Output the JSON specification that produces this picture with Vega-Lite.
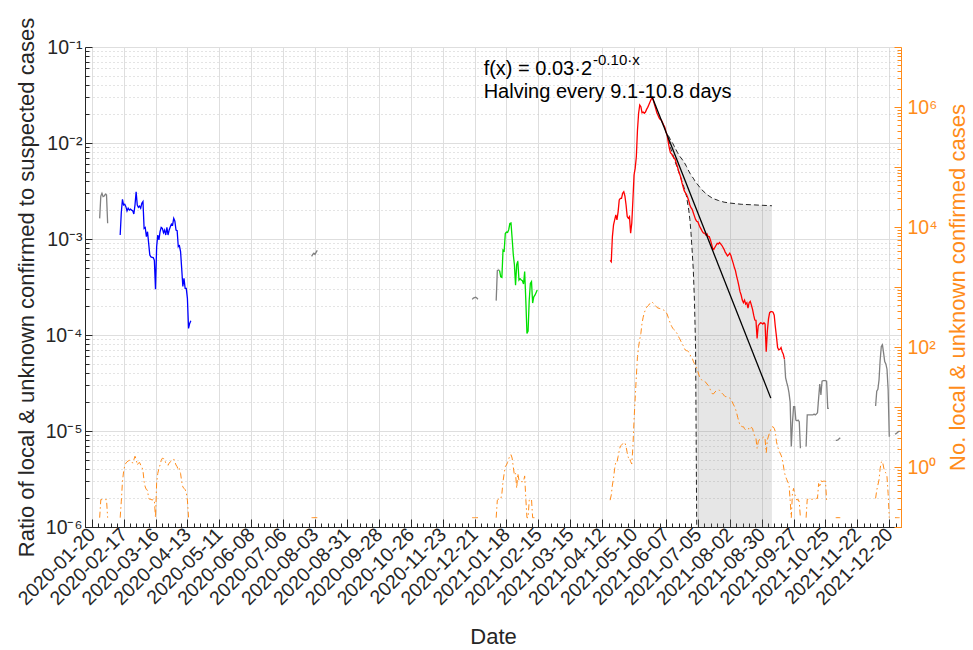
{
"$schema": "https://vega.github.io/schema/vega-lite/v6.json",
"width": 816,
"height": 480,
"autosize": {"type": "none"},
"padding": {"left": 85, "top": 47, "right": 72, "bottom": 123},
"background": "#ffffff",
"config": {
  "font": "Liberation Sans",
  "view": {"stroke": null},
  "axis": {"labelFont": "Liberation Sans", "titleFont": "Liberation Sans", "titleFontWeight": "normal", "labelColor": "#262626", "titleColor": "#262626", "domainColor": "#262626", "tickColor": "#262626", "domainWidth": 1, "tickWidth": 1},
  "text": {"font": "Liberation Sans"}
},
"datasets": {
  "ratio": [
    {"d":"2020-01-27","v":1.64e-3,"s":"other","g":"a"},
    {"d":"2020-01-28","v":2.8e-3,"s":"other","g":"a"},
    {"d":"2020-01-29","v":2.99e-3,"s":"other","g":"a"},
    {"d":"2020-01-30","v":2.76e-3,"s":"other","g":"a"},
    {"d":"2020-01-31","v":2.8e-3,"s":"other","g":"a"},
    {"d":"2020-02-01","v":2.93e-3,"s":"other","g":"a"},
    {"d":"2020-02-02","v":2.88e-3,"s":"other","g":"a"},
    {"d":"2020-02-03","v":1.46e-3,"s":"other","g":"a"},
    {"d":"2020-02-14","v":1.10e-3,"s":"wave1","g":"b"},
    {"d":"2020-02-15","v":1.9e-3,"s":"wave1","g":"b"},
    {"d":"2020-02-16","v":2.59e-3,"s":"wave1","g":"b"},
    {"d":"2020-02-17","v":2.26e-3,"s":"wave1","g":"b"},
    {"d":"2020-02-18","v":2.3e-3,"s":"wave1","g":"b"},
    {"d":"2020-02-19","v":2.17e-3,"s":"wave1","g":"b"},
    {"d":"2020-02-20","v":1.96e-3,"s":"wave1","g":"b"},
    {"d":"2020-02-21","v":2.09e-3,"s":"wave1","g":"b"},
    {"d":"2020-02-22","v":2.0e-3,"s":"wave1","g":"b"},
    {"d":"2020-02-23","v":2.05e-3,"s":"wave1","g":"b"},
    {"d":"2020-02-24","v":2.0e-3,"s":"wave1","g":"b"},
    {"d":"2020-02-25","v":1.97e-3,"s":"wave1","g":"b"},
    {"d":"2020-02-26","v":1.82e-3,"s":"wave1","g":"b"},
    {"d":"2020-02-27","v":2.26e-3,"s":"wave1","g":"b"},
    {"d":"2020-02-28","v":3.11e-3,"s":"wave1","g":"b"},
    {"d":"2020-02-29","v":2.26e-3,"s":"wave1","g":"b"},
    {"d":"2020-03-01","v":2.14e-3,"s":"wave1","g":"b"},
    {"d":"2020-03-02","v":2.2e-3,"s":"wave1","g":"b"},
    {"d":"2020-03-03","v":2.09e-3,"s":"wave1","g":"b"},
    {"d":"2020-03-04","v":2.35e-3,"s":"wave1","g":"b"},
    {"d":"2020-03-05","v":2.45e-3,"s":"wave1","g":"b"},
    {"d":"2020-03-06","v":1.29e-3,"s":"wave1","g":"b"},
    {"d":"2020-03-07","v":1.32e-3,"s":"wave1","g":"b"},
    {"d":"2020-03-08","v":1.06e-3,"s":"wave1","g":"b"},
    {"d":"2020-03-09","v":1.19e-3,"s":"wave1","g":"b"},
    {"d":"2020-03-10","v":9.0e-4,"s":"wave1","g":"b"},
    {"d":"2020-03-11","v":6.8e-4,"s":"wave1","g":"b"},
    {"d":"2020-03-12","v":6.5e-4,"s":"wave1","g":"b"},
    {"d":"2020-03-13","v":6.45e-4,"s":"wave1","g":"b"},
    {"d":"2020-03-14","v":6.4e-4,"s":"wave1","g":"b"},
    {"d":"2020-03-15","v":6.0e-4,"s":"wave1","g":"b"},
    {"d":"2020-03-16","v":2.99e-4,"s":"wave1","g":"b"},
    {"d":"2020-03-17","v":8.3e-4,"s":"wave1","g":"b"},
    {"d":"2020-03-18","v":1.1e-3,"s":"wave1","g":"b"},
    {"d":"2020-03-19","v":9.8e-4,"s":"wave1","g":"b"},
    {"d":"2020-03-20","v":1.19e-3,"s":"wave1","g":"b"},
    {"d":"2020-03-21","v":1.32e-3,"s":"wave1","g":"b"},
    {"d":"2020-03-22","v":1.29e-3,"s":"wave1","g":"b"},
    {"d":"2020-03-23","v":1.16e-3,"s":"wave1","g":"b"},
    {"d":"2020-03-24","v":1.24e-3,"s":"wave1","g":"b"},
    {"d":"2020-03-25","v":1.10e-3,"s":"wave1","g":"b"},
    {"d":"2020-03-26","v":1.32e-3,"s":"wave1","g":"b"},
    {"d":"2020-03-27","v":1.10e-3,"s":"wave1","g":"b"},
    {"d":"2020-03-28","v":1.24e-3,"s":"wave1","g":"b"},
    {"d":"2020-03-29","v":1.34e-3,"s":"wave1","g":"b"},
    {"d":"2020-03-30","v":1.43e-3,"s":"wave1","g":"b"},
    {"d":"2020-03-31","v":1.40e-3,"s":"wave1","g":"b"},
    {"d":"2020-04-01","v":1.64e-3,"s":"wave1","g":"b"},
    {"d":"2020-04-02","v":1.53e-3,"s":"wave1","g":"b"},
    {"d":"2020-04-03","v":1.24e-3,"s":"wave1","g":"b"},
    {"d":"2020-04-04","v":1.22e-3,"s":"wave1","g":"b"},
    {"d":"2020-04-05","v":8.3e-4,"s":"wave1","g":"b"},
    {"d":"2020-04-06","v":8.5e-4,"s":"wave1","g":"b"},
    {"d":"2020-04-07","v":7.4e-4,"s":"wave1","g":"b"},
    {"d":"2020-04-08","v":4.9e-4,"s":"wave1","g":"b"},
    {"d":"2020-04-09","v":3.2e-4,"s":"wave1","g":"b"},
    {"d":"2020-04-10","v":3.9e-4,"s":"wave1","g":"b"},
    {"d":"2020-04-11","v":3.06e-4,"s":"wave1","g":"b"},
    {"d":"2020-04-12","v":3.06e-4,"s":"wave1","g":"b"},
    {"d":"2020-04-13","v":2.41e-4,"s":"wave1","g":"b"},
    {"d":"2020-04-14","v":1.17e-4,"s":"wave1","g":"b"},
    {"d":"2020-04-15","v":1.32e-4,"s":"wave1","g":"b"},
    {"d":"2020-04-16","v":1.41e-4,"s":"wave1","g":"b"},
    {"d":"2020-07-31","v":6.6e-4,"s":"other","g":"c"},
    {"d":"2020-08-01","v":6.9e-4,"s":"other","g":"c"},
    {"d":"2020-08-02","v":7.1e-4,"s":"other","g":"c"},
    {"d":"2020-08-03","v":6.9e-4,"s":"other","g":"c"},
    {"d":"2020-08-04","v":7.3e-4,"s":"other","g":"c"},
    {"d":"2020-08-05","v":7.6e-4,"s":"other","g":"c"},
    {"d":"2020-12-19","v":2.35e-4,"s":"other","g":"e"},
    {"d":"2020-12-20","v":2.42e-4,"s":"other","g":"e"},
    {"d":"2020-12-21","v":2.45e-4,"s":"other","g":"e"},
    {"d":"2020-12-22","v":2.48e-4,"s":"other","g":"e"},
    {"d":"2020-12-23","v":2.43e-4,"s":"other","g":"e"},
    {"d":"2020-12-24","v":2.36e-4,"s":"other","g":"e"},
    {"d":"2021-01-09","v":2.28e-4,"s":"other","g":"f"},
    {"d":"2021-01-10","v":4.68e-4,"s":"other","g":"f"},
    {"d":"2021-01-11","v":4.75e-4,"s":"other","g":"f"},
    {"d":"2021-01-12","v":4.68e-4,"s":"other","g":"f"},
    {"d":"2021-01-12","v":4.68e-4,"s":"wave2","g":"h"},
    {"d":"2021-01-13","v":4.03e-4,"s":"wave2","g":"h"},
    {"d":"2021-01-14","v":3.97e-4,"s":"wave2","g":"h"},
    {"d":"2021-01-15","v":7.66e-4,"s":"wave2","g":"h"},
    {"d":"2021-01-16","v":7.5e-4,"s":"wave2","g":"h"},
    {"d":"2021-01-17","v":1.14e-3,"s":"wave2","g":"h"},
    {"d":"2021-01-18","v":1.18e-3,"s":"wave2","g":"h"},
    {"d":"2021-01-19","v":1.17e-3,"s":"wave2","g":"h"},
    {"d":"2021-01-20","v":1.25e-3,"s":"wave2","g":"h"},
    {"d":"2021-01-21","v":1.45e-3,"s":"wave2","g":"h"},
    {"d":"2021-01-22","v":1.47e-3,"s":"wave2","g":"h"},
    {"d":"2021-01-23","v":1.02e-3,"s":"wave2","g":"h"},
    {"d":"2021-01-24","v":6.9e-4,"s":"wave2","g":"h"},
    {"d":"2021-01-25","v":5.4e-4,"s":"wave2","g":"h"},
    {"d":"2021-01-26","v":3.3e-4,"s":"wave2","g":"h"},
    {"d":"2021-01-27","v":5.4e-4,"s":"wave2","g":"h"},
    {"d":"2021-01-28","v":5.87e-4,"s":"wave2","g":"h"},
    {"d":"2021-01-29","v":3.74e-4,"s":"wave2","g":"h"},
    {"d":"2021-01-30","v":3.86e-4,"s":"wave2","g":"h"},
    {"d":"2021-01-31","v":3.74e-4,"s":"wave2","g":"h"},
    {"d":"2021-02-01","v":3.68e-4,"s":"wave2","g":"h"},
    {"d":"2021-02-02","v":3.4e-4,"s":"wave2","g":"h"},
    {"d":"2021-02-03","v":4.58e-4,"s":"wave2","g":"h"},
    {"d":"2021-02-04","v":2.32e-4,"s":"wave2","g":"h"},
    {"d":"2021-02-05","v":1.04e-4,"s":"wave2","g":"h"},
    {"d":"2021-02-06","v":1.1e-4,"s":"wave2","g":"h"},
    {"d":"2021-02-07","v":2.3e-4,"s":"wave2","g":"h"},
    {"d":"2021-02-08","v":3.45e-4,"s":"wave2","g":"h"},
    {"d":"2021-02-09","v":3.6e-4,"s":"wave2","g":"h"},
    {"d":"2021-02-10","v":2.15e-4,"s":"wave2","g":"h"},
    {"d":"2021-02-11","v":2.5e-4,"s":"wave2","g":"h"},
    {"d":"2021-02-12","v":2.6e-4,"s":"wave2","g":"h"},
    {"d":"2021-02-13","v":2.76e-4,"s":"wave2","g":"h"},
    {"d":"2021-02-14","v":2.94e-4,"s":"wave2","g":"h"},
    {"d":"2021-04-19","v":6.0e-4,"s":"wave3","g":"r"},
    {"d":"2021-04-20","v":5.8e-4,"s":"wave3","g":"r"},
    {"d":"2021-04-21","v":1.06e-3,"s":"wave3","g":"r"},
    {"d":"2021-04-22","v":1.40e-3,"s":"wave3","g":"r"},
    {"d":"2021-04-23","v":1.58e-3,"s":"wave3","g":"r"},
    {"d":"2021-04-24","v":1.78e-3,"s":"wave3","g":"r"},
    {"d":"2021-04-25","v":1.58e-3,"s":"wave3","g":"r"},
    {"d":"2021-04-26","v":1.92e-3,"s":"wave3","g":"r"},
    {"d":"2021-04-27","v":2.55e-3,"s":"wave3","g":"r"},
    {"d":"2021-04-28","v":2.65e-3,"s":"wave3","g":"r"},
    {"d":"2021-04-29","v":2.65e-3,"s":"wave3","g":"r"},
    {"d":"2021-04-30","v":2.99e-3,"s":"wave3","g":"r"},
    {"d":"2021-05-01","v":3.11e-3,"s":"wave3","g":"r"},
    {"d":"2021-05-02","v":2.8e-3,"s":"wave3","g":"r"},
    {"d":"2021-05-03","v":2.26e-3,"s":"wave3","g":"r"},
    {"d":"2021-05-04","v":1.71e-3,"s":"wave3","g":"r"},
    {"d":"2021-05-05","v":1.64e-3,"s":"wave3","g":"r"},
    {"d":"2021-05-06","v":1.71e-3,"s":"wave3","g":"r"},
    {"d":"2021-05-07","v":1.15e-3,"s":"wave3","g":"r"},
    {"d":"2021-05-08","v":1.46e-3,"s":"wave3","g":"r"},
    {"d":"2021-05-09","v":2.55e-3,"s":"wave3","g":"r"},
    {"d":"2021-05-10","v":4.64e-3,"s":"wave3","g":"r"},
    {"d":"2021-05-11","v":5.44e-3,"s":"wave3","g":"r"},
    {"d":"2021-05-12","v":7.2e-3,"s":"wave3","g":"r"},
    {"d":"2021-05-13","v":1.36e-2,"s":"wave3","g":"r"},
    {"d":"2021-05-14","v":2.04e-2,"s":"wave3","g":"r"},
    {"d":"2021-05-15","v":2.49e-2,"s":"wave3","g":"r"},
    {"d":"2021-05-16","v":2.39e-2,"s":"wave3","g":"r"},
    {"d":"2021-05-17","v":2.07e-2,"s":"wave3","g":"r"},
    {"d":"2021-05-18","v":2.1e-2,"s":"wave3","g":"r"},
    {"d":"2021-05-19","v":2.04e-2,"s":"wave3","g":"r"},
    {"d":"2021-05-20","v":2.1e-2,"s":"wave3","g":"r"},
    {"d":"2021-05-21","v":2.24e-2,"s":"wave3","g":"r"},
    {"d":"2021-05-22","v":2.35e-2,"s":"wave3","g":"r"},
    {"d":"2021-05-23","v":2.5e-2,"s":"wave3","g":"r"},
    {"d":"2021-05-24","v":2.67e-2,"s":"wave3","g":"r"},
    {"d":"2021-05-25","v":2.85e-2,"s":"wave3","g":"r"},
    {"d":"2021-05-26","v":2.99e-2,"s":"wave3","g":"r"},
    {"d":"2021-05-27","v":2.76e-2,"s":"wave3","g":"r"},
    {"d":"2021-05-28","v":2.5e-2,"s":"wave3","g":"r"},
    {"d":"2021-05-29","v":2.28e-2,"s":"wave3","g":"r"},
    {"d":"2021-05-30","v":2.07e-2,"s":"wave3","g":"r"},
    {"d":"2021-05-31","v":1.94e-2,"s":"wave3","g":"r"},
    {"d":"2021-06-01","v":1.82e-2,"s":"wave3","g":"r"},
    {"d":"2021-06-02","v":1.76e-2,"s":"wave3","g":"r"},
    {"d":"2021-06-03","v":1.73e-2,"s":"wave3","g":"r"},
    {"d":"2021-06-04","v":1.63e-2,"s":"wave3","g":"r"},
    {"d":"2021-06-05","v":1.54e-2,"s":"wave3","g":"r"},
    {"d":"2021-06-06","v":1.46e-2,"s":"wave3","g":"r"},
    {"d":"2021-06-07","v":1.31e-2,"s":"wave3","g":"r"},
    {"d":"2021-06-08","v":1.21e-2,"s":"wave3","g":"r"},
    {"d":"2021-06-09","v":1.03e-2,"s":"wave3","g":"r"},
    {"d":"2021-06-10","v":8.8e-3,"s":"wave3","g":"r"},
    {"d":"2021-06-11","v":7.9e-3,"s":"wave3","g":"r"},
    {"d":"2021-06-12","v":7.7e-3,"s":"wave3","g":"r"},
    {"d":"2021-06-13","v":7.3e-3,"s":"wave3","g":"r"},
    {"d":"2021-06-14","v":7.0e-3,"s":"wave3","g":"r"},
    {"d":"2021-06-15","v":6.8e-3,"s":"wave3","g":"r"},
    {"d":"2021-06-16","v":6.2e-3,"s":"wave3","g":"r"},
    {"d":"2021-06-17","v":5.7e-3,"s":"wave3","g":"r"},
    {"d":"2021-06-18","v":5.15e-3,"s":"wave3","g":"r"},
    {"d":"2021-06-19","v":4.75e-3,"s":"wave3","g":"r"},
    {"d":"2021-06-20","v":4.39e-3,"s":"wave3","g":"r"},
    {"d":"2021-06-21","v":3.86e-3,"s":"wave3","g":"r"},
    {"d":"2021-06-22","v":3.51e-3,"s":"wave3","g":"r"},
    {"d":"2021-06-23","v":3.19e-3,"s":"wave3","g":"r"},
    {"d":"2021-06-24","v":3.03e-3,"s":"wave3","g":"r"},
    {"d":"2021-06-25","v":2.9e-3,"s":"wave3","g":"r"},
    {"d":"2021-06-26","v":2.72e-3,"s":"wave3","g":"r"},
    {"d":"2021-06-27","v":2.51e-3,"s":"wave3","g":"r"},
    {"d":"2021-06-28","v":2.26e-3,"s":"wave3","g":"r"},
    {"d":"2021-06-29","v":2.12e-3,"s":"wave3","g":"r"},
    {"d":"2021-06-30","v":2.04e-3,"s":"wave3","g":"r"},
    {"d":"2021-07-01","v":1.88e-3,"s":"wave3","g":"r"},
    {"d":"2021-07-02","v":1.73e-3,"s":"wave3","g":"r"},
    {"d":"2021-07-03","v":1.60e-3,"s":"wave3","g":"r"},
    {"d":"2021-07-04","v":1.53e-3,"s":"wave3","g":"r"},
    {"d":"2021-07-05","v":1.51e-3,"s":"wave3","g":"r"},
    {"d":"2021-07-06","v":1.41e-3,"s":"wave3","g":"r"},
    {"d":"2021-07-07","v":1.32e-3,"s":"wave3","g":"r"},
    {"d":"2021-07-08","v":1.26e-3,"s":"wave3","g":"r"},
    {"d":"2021-07-09","v":1.19e-3,"s":"wave3","g":"r"},
    {"d":"2021-07-10","v":1.15e-3,"s":"wave3","g":"r"},
    {"d":"2021-07-11","v":1.15e-3,"s":"wave3","g":"r"},
    {"d":"2021-07-12","v":1.10e-3,"s":"wave3","g":"r"},
    {"d":"2021-07-13","v":1.13e-3,"s":"wave3","g":"r"},
    {"d":"2021-07-14","v":1.06e-3,"s":"wave3","g":"r"},
    {"d":"2021-07-15","v":1.06e-3,"s":"wave3","g":"r"},
    {"d":"2021-07-16","v":9.8e-4,"s":"wave3","g":"r"},
    {"d":"2021-07-17","v":8.9e-4,"s":"wave3","g":"r"},
    {"d":"2021-07-18","v":8.0e-4,"s":"wave3","g":"r"},
    {"d":"2021-07-19","v":7.8e-4,"s":"wave3","g":"r"},
    {"d":"2021-07-20","v":8.2e-4,"s":"wave3","g":"r"},
    {"d":"2021-07-21","v":8.6e-4,"s":"wave3","g":"r"},
    {"d":"2021-07-22","v":9.0e-4,"s":"wave3","g":"r"},
    {"d":"2021-07-23","v":8.9e-4,"s":"wave3","g":"r"},
    {"d":"2021-07-24","v":9.2e-4,"s":"wave3","g":"r"},
    {"d":"2021-07-25","v":8.9e-4,"s":"wave3","g":"r"},
    {"d":"2021-07-26","v":8.6e-4,"s":"wave3","g":"r"},
    {"d":"2021-07-27","v":8.2e-4,"s":"wave3","g":"r"},
    {"d":"2021-07-28","v":7.8e-4,"s":"wave3","g":"r"},
    {"d":"2021-07-29","v":7.3e-4,"s":"wave3","g":"r"},
    {"d":"2021-07-30","v":7.0e-4,"s":"wave3","g":"r"},
    {"d":"2021-07-31","v":6.65e-4,"s":"wave3","g":"r"},
    {"d":"2021-08-01","v":6.85e-4,"s":"wave3","g":"r"},
    {"d":"2021-08-02","v":7.1e-4,"s":"wave3","g":"r"},
    {"d":"2021-08-03","v":6.75e-4,"s":"wave3","g":"r"},
    {"d":"2021-08-04","v":6.1e-4,"s":"wave3","g":"r"},
    {"d":"2021-08-05","v":5.6e-4,"s":"wave3","g":"r"},
    {"d":"2021-08-06","v":5.07e-4,"s":"wave3","g":"r"},
    {"d":"2021-08-07","v":4.68e-4,"s":"wave3","g":"r"},
    {"d":"2021-08-08","v":4.11e-4,"s":"wave3","g":"r"},
    {"d":"2021-08-09","v":3.68e-4,"s":"wave3","g":"r"},
    {"d":"2021-08-10","v":3.24e-4,"s":"wave3","g":"r"},
    {"d":"2021-08-11","v":2.83e-4,"s":"wave3","g":"r"},
    {"d":"2021-08-12","v":2.61e-4,"s":"wave3","g":"r"},
    {"d":"2021-08-13","v":2.31e-4,"s":"wave3","g":"r"},
    {"d":"2021-08-14","v":2.17e-4,"s":"wave3","g":"r"},
    {"d":"2021-08-15","v":2.31e-4,"s":"wave3","g":"r"},
    {"d":"2021-08-16","v":2.1e-4,"s":"wave3","g":"r"},
    {"d":"2021-08-17","v":2.17e-4,"s":"wave3","g":"r"},
    {"d":"2021-08-18","v":1.9e-4,"s":"wave3","g":"r"},
    {"d":"2021-08-19","v":2.17e-4,"s":"wave3","g":"r"},
    {"d":"2021-08-20","v":2.24e-4,"s":"wave3","g":"r"},
    {"d":"2021-08-21","v":2.05e-4,"s":"wave3","g":"r"},
    {"d":"2021-08-22","v":1.85e-4,"s":"wave3","g":"r"},
    {"d":"2021-08-23","v":1.61e-4,"s":"wave3","g":"r"},
    {"d":"2021-08-24","v":1.43e-4,"s":"wave3","g":"r"},
    {"d":"2021-08-25","v":1.42e-4,"s":"wave3","g":"r"},
    {"d":"2021-08-26","v":9.2e-5,"s":"wave3","g":"r"},
    {"d":"2021-08-27","v":1.25e-4,"s":"wave3","g":"r"},
    {"d":"2021-08-28","v":1.3e-4,"s":"wave3","g":"r"},
    {"d":"2021-08-29","v":1.34e-4,"s":"wave3","g":"r"},
    {"d":"2021-08-30","v":1.33e-4,"s":"wave3","g":"r"},
    {"d":"2021-08-31","v":1.3e-4,"s":"wave3","g":"r"},
    {"d":"2021-09-01","v":1.34e-4,"s":"wave3","g":"r"},
    {"d":"2021-09-02","v":1.3e-4,"s":"wave3","g":"r"},
    {"d":"2021-09-03","v":6.7e-5,"s":"wave3","g":"r"},
    {"d":"2021-09-04","v":1.1e-4,"s":"wave3","g":"r"},
    {"d":"2021-09-05","v":1.47e-4,"s":"wave3","g":"r"},
    {"d":"2021-09-06","v":1.71e-4,"s":"wave3","g":"r"},
    {"d":"2021-09-07","v":1.75e-4,"s":"wave3","g":"r"},
    {"d":"2021-09-08","v":1.75e-4,"s":"wave3","g":"r"},
    {"d":"2021-09-09","v":1.73e-4,"s":"wave3","g":"r"},
    {"d":"2021-09-10","v":1.61e-4,"s":"wave3","g":"r"},
    {"d":"2021-09-11","v":1.22e-4,"s":"wave3","g":"r"},
    {"d":"2021-09-12","v":9.6e-5,"s":"wave3","g":"r"},
    {"d":"2021-09-13","v":7.4e-5,"s":"wave3","g":"r"},
    {"d":"2021-09-14","v":7.0e-5,"s":"wave3","g":"r"},
    {"d":"2021-09-15","v":7.1e-5,"s":"wave3","g":"r"},
    {"d":"2021-09-16","v":7.4e-5,"s":"wave3","g":"r"},
    {"d":"2021-09-17","v":6.7e-5,"s":"wave3","g":"r"},
    {"d":"2021-09-18","v":6.3e-5,"s":"wave3","g":"r"},
    {"d":"2021-09-19","v":5.6e-5,"s":"wave3","g":"r"},
    {"d":"2021-09-19","v":5.6e-5,"s":"other","g":"k"},
    {"d":"2021-09-20","v":3.6e-5,"s":"other","g":"k"},
    {"d":"2021-09-21","v":3.2e-5,"s":"other","g":"k"},
    {"d":"2021-09-22","v":2.9e-5,"s":"other","g":"k"},
    {"d":"2021-09-23","v":2.5e-5,"s":"other","g":"k"},
    {"d":"2021-09-24","v":2.0e-5,"s":"other","g":"k"},
    {"d":"2021-09-25","v":6.9e-6,"s":"other","g":"k"},
    {"d":"2021-09-26","v":1.2e-5,"s":"other","g":"k"},
    {"d":"2021-09-27","v":1.79e-5,"s":"other","g":"k"},
    {"d":"2021-09-28","v":1.79e-5,"s":"other","g":"k"},
    {"d":"2021-09-29","v":1.3e-5,"s":"other","g":"k"},
    {"d":"2021-09-30","v":1.28e-5,"s":"other","g":"k"},
    {"d":"2021-10-01","v":1.3e-5,"s":"other","g":"k"},
    {"d":"2021-10-02","v":1.25e-5,"s":"other","g":"k"},
    {"d":"2021-10-03","v":6.6e-6,"s":"other","g":"k"},
    {"d":"2021-10-08","v":6.9e-6,"s":"other","g":"m"},
    {"d":"2021-10-09","v":1.47e-5,"s":"other","g":"m"},
    {"d":"2021-10-10","v":1.47e-5,"s":"other","g":"m"},
    {"d":"2021-10-11","v":1.47e-5,"s":"other","g":"m"},
    {"d":"2021-10-12","v":1.47e-5,"s":"other","g":"m"},
    {"d":"2021-10-13","v":1.47e-5,"s":"other","g":"m"},
    {"d":"2021-10-14","v":1.47e-5,"s":"other","g":"m"},
    {"d":"2021-10-15","v":1.5e-5,"s":"other","g":"m"},
    {"d":"2021-10-16","v":1.47e-5,"s":"other","g":"m"},
    {"d":"2021-10-17","v":1.5e-5,"s":"other","g":"m"},
    {"d":"2021-10-18","v":1.55e-5,"s":"other","g":"m"},
    {"d":"2021-10-19","v":2.2e-5,"s":"other","g":"m"},
    {"d":"2021-10-20","v":3.09e-5,"s":"other","g":"m"},
    {"d":"2021-10-21","v":2.37e-5,"s":"other","g":"m"},
    {"d":"2021-10-22","v":3.3e-5,"s":"other","g":"m"},
    {"d":"2021-10-23","v":3.34e-5,"s":"other","g":"m"},
    {"d":"2021-10-24","v":3.34e-5,"s":"other","g":"m"},
    {"d":"2021-10-25","v":3.34e-5,"s":"other","g":"m"},
    {"d":"2021-10-26","v":3.3e-5,"s":"other","g":"m"},
    {"d":"2021-10-27","v":1.72e-5,"s":"other","g":"m"},
    {"d":"2021-10-28","v":1.72e-5,"s":"other","g":"m"},
    {"d":"2021-11-03","v":8.0e-6,"s":"other","g":"n"},
    {"d":"2021-11-04","v":8.0e-6,"s":"other","g":"n"},
    {"d":"2021-11-05","v":8.1e-6,"s":"other","g":"n"},
    {"d":"2021-11-06","v":8.3e-6,"s":"other","g":"n"},
    {"d":"2021-11-07","v":8.5e-6,"s":"other","g":"n"},
    {"d":"2021-12-08","v":1.82e-5,"s":"other","g":"p"},
    {"d":"2021-12-09","v":2.6e-5,"s":"other","g":"p"},
    {"d":"2021-12-10","v":2.72e-5,"s":"other","g":"p"},
    {"d":"2021-12-11","v":3.4e-5,"s":"other","g":"p"},
    {"d":"2021-12-12","v":5.5e-5,"s":"other","g":"p"},
    {"d":"2021-12-13","v":7.6e-5,"s":"other","g":"p"},
    {"d":"2021-12-14","v":7.9e-5,"s":"other","g":"p"},
    {"d":"2021-12-15","v":6.5e-5,"s":"other","g":"p"},
    {"d":"2021-12-16","v":5.3e-5,"s":"other","g":"p"},
    {"d":"2021-12-17","v":5.0e-5,"s":"other","g":"p"},
    {"d":"2021-12-18","v":4.4e-5,"s":"other","g":"p"},
    {"d":"2021-12-19","v":2.7e-5,"s":"other","g":"p"},
    {"d":"2021-12-20","v":8.7e-6,"s":"other","g":"p"},
    {"d":"2021-12-25","v":9.3e-6,"s":"other","g":"q"},
    {"d":"2021-12-26","v":9.4e-6,"s":"other","g":"q"},
    {"d":"2021-12-27","v":9.6e-6,"s":"other","g":"q"},
    {"d":"2021-12-28","v":9.8e-6,"s":"other","g":"q"},
    {"d":"2021-12-29","v":1.0e-5,"s":"other","g":"q"}
  ],
  "cases": [
    {"d":"2020-01-27","v":0.143,"g":"o1"},
    {"d":"2020-01-28","v":0.286,"g":"o1"},
    {"d":"2020-01-29","v":0.286,"g":"o1"},
    {"d":"2020-01-30","v":0.286,"g":"o1"},
    {"d":"2020-01-31","v":0.286,"g":"o1"},
    {"d":"2020-02-01","v":0.286,"g":"o1"},
    {"d":"2020-02-02","v":0.286,"g":"o1"},
    {"d":"2020-02-03","v":0.143,"g":"o1"},
    {"d":"2020-02-14","v":0.143,"g":"o2"},
    {"d":"2020-02-15","v":0.27,"g":"o2"},
    {"d":"2020-02-16","v":0.57,"g":"o2"},
    {"d":"2020-02-17","v":0.84,"g":"o2"},
    {"d":"2020-02-18","v":1.04,"g":"o2"},
    {"d":"2020-02-19","v":1.16,"g":"o2"},
    {"d":"2020-02-20","v":1.22,"g":"o2"},
    {"d":"2020-02-21","v":1.26,"g":"o2"},
    {"d":"2020-02-22","v":1.29,"g":"o2"},
    {"d":"2020-02-23","v":1.29,"g":"o2"},
    {"d":"2020-02-24","v":1.24,"g":"o2"},
    {"d":"2020-02-25","v":1.16,"g":"o2"},
    {"d":"2020-02-26","v":1.32,"g":"o2"},
    {"d":"2020-02-27","v":1.51,"g":"o2"},
    {"d":"2020-02-28","v":1.36,"g":"o2"},
    {"d":"2020-02-29","v":1.08,"g":"o2"},
    {"d":"2020-03-01","v":1.16,"g":"o2"},
    {"d":"2020-03-02","v":1.19,"g":"o2"},
    {"d":"2020-03-03","v":1.08,"g":"o2"},
    {"d":"2020-03-04","v":1.01,"g":"o2"},
    {"d":"2020-03-05","v":0.87,"g":"o2"},
    {"d":"2020-03-06","v":0.57,"g":"o2"},
    {"d":"2020-03-07","v":0.465,"g":"o2"},
    {"d":"2020-03-08","v":0.42,"g":"o2"},
    {"d":"2020-03-09","v":0.41,"g":"o2"},
    {"d":"2020-03-10","v":0.30,"g":"o2"},
    {"d":"2020-03-11","v":0.29,"g":"o2"},
    {"d":"2020-03-12","v":0.29,"g":"o2"},
    {"d":"2020-03-13","v":0.28,"g":"o2"},
    {"d":"2020-03-14","v":0.29,"g":"o2"},
    {"d":"2020-03-15","v":0.28,"g":"o2"},
    {"d":"2020-03-16","v":0.143,"g":"o2"},
    {"d":"2020-03-17","v":0.54,"g":"o2"},
    {"d":"2020-03-18","v":0.78,"g":"o2"},
    {"d":"2020-03-19","v":0.95,"g":"o2"},
    {"d":"2020-03-20","v":1.08,"g":"o2"},
    {"d":"2020-03-21","v":1.29,"g":"o2"},
    {"d":"2020-03-22","v":1.40,"g":"o2"},
    {"d":"2020-03-23","v":1.38,"g":"o2"},
    {"d":"2020-03-24","v":1.36,"g":"o2"},
    {"d":"2020-03-25","v":1.16,"g":"o2"},
    {"d":"2020-03-26","v":1.13,"g":"o2"},
    {"d":"2020-03-27","v":1.07,"g":"o2"},
    {"d":"2020-03-28","v":1.16,"g":"o2"},
    {"d":"2020-03-29","v":1.22,"g":"o2"},
    {"d":"2020-03-30","v":1.27,"g":"o2"},
    {"d":"2020-03-31","v":1.30,"g":"o2"},
    {"d":"2020-04-01","v":1.36,"g":"o2"},
    {"d":"2020-04-02","v":1.22,"g":"o2"},
    {"d":"2020-04-03","v":1.08,"g":"o2"},
    {"d":"2020-04-04","v":1.01,"g":"o2"},
    {"d":"2020-04-05","v":0.89,"g":"o2"},
    {"d":"2020-04-06","v":0.94,"g":"o2"},
    {"d":"2020-04-07","v":0.78,"g":"o2"},
    {"d":"2020-04-08","v":0.57,"g":"o2"},
    {"d":"2020-04-09","v":0.465,"g":"o2"},
    {"d":"2020-04-10","v":0.44,"g":"o2"},
    {"d":"2020-04-11","v":0.42,"g":"o2"},
    {"d":"2020-04-12","v":0.38,"g":"o2"},
    {"d":"2020-04-13","v":0.28,"g":"o2"},
    {"d":"2020-04-14","v":0.146,"g":"o2"},
    {"d":"2020-04-15","v":0.143,"g":"o2"},
    {"d":"2020-04-16","v":0.143,"g":"o2"},
    {"d":"2020-07-31","v":0.143,"g":"o3"},
    {"d":"2020-08-01","v":0.143,"g":"o3"},
    {"d":"2020-08-02","v":0.143,"g":"o3"},
    {"d":"2020-08-03","v":0.143,"g":"o3"},
    {"d":"2020-08-04","v":0.143,"g":"o3"},
    {"d":"2020-08-05","v":0.143,"g":"o3"},
    {"d":"2020-12-19","v":0.143,"g":"o4"},
    {"d":"2020-12-20","v":0.143,"g":"o4"},
    {"d":"2020-12-21","v":0.143,"g":"o4"},
    {"d":"2020-12-22","v":0.143,"g":"o4"},
    {"d":"2020-12-23","v":0.143,"g":"o4"},
    {"d":"2020-12-24","v":0.143,"g":"o4"},
    {"d":"2021-01-09","v":0.143,"g":"o5"},
    {"d":"2021-01-10","v":0.28,"g":"o5"},
    {"d":"2021-01-11","v":0.29,"g":"o5"},
    {"d":"2021-01-12","v":0.29,"g":"o5"},
    {"d":"2021-01-13","v":0.29,"g":"o5"},
    {"d":"2021-01-14","v":0.36,"g":"o5"},
    {"d":"2021-01-15","v":0.57,"g":"o5"},
    {"d":"2021-01-16","v":0.78,"g":"o5"},
    {"d":"2021-01-17","v":1.01,"g":"o5"},
    {"d":"2021-01-18","v":1.08,"g":"o5"},
    {"d":"2021-01-19","v":1.19,"g":"o5"},
    {"d":"2021-01-20","v":1.36,"g":"o5"},
    {"d":"2021-01-21","v":1.55,"g":"o5"},
    {"d":"2021-01-22","v":1.61,"g":"o5"},
    {"d":"2021-01-23","v":1.41,"g":"o5"},
    {"d":"2021-01-24","v":1.01,"g":"o5"},
    {"d":"2021-01-25","v":0.73,"g":"o5"},
    {"d":"2021-01-26","v":0.78,"g":"o5"},
    {"d":"2021-01-27","v":0.44,"g":"o5"},
    {"d":"2021-01-28","v":0.78,"g":"o5"},
    {"d":"2021-01-29","v":0.60,"g":"o5"},
    {"d":"2021-01-30","v":0.57,"g":"o5"},
    {"d":"2021-01-31","v":0.57,"g":"o5"},
    {"d":"2021-02-01","v":0.57,"g":"o5"},
    {"d":"2021-02-02","v":0.57,"g":"o5"},
    {"d":"2021-02-03","v":0.71,"g":"o5"},
    {"d":"2021-02-04","v":0.30,"g":"o5"},
    {"d":"2021-02-05","v":0.143,"g":"o5"},
    {"d":"2021-02-06","v":0.143,"g":"o5"},
    {"d":"2021-02-07","v":0.28,"g":"o5"},
    {"d":"2021-02-08","v":0.29,"g":"o5"},
    {"d":"2021-02-09","v":0.29,"g":"o5"},
    {"d":"2021-02-10","v":0.143,"g":"o5"},
    {"d":"2021-02-11","v":0.143,"g":"o5"},
    {"d":"2021-02-12","v":0.143,"g":"o5"},
    {"d":"2021-02-13","v":0.143,"g":"o5"},
    {"d":"2021-02-14","v":0.143,"g":"o5"},
    {"d":"2021-04-19","v":0.28,"g":"o6"},
    {"d":"2021-04-20","v":0.34,"g":"o6"},
    {"d":"2021-04-21","v":0.50,"g":"o6"},
    {"d":"2021-04-22","v":0.65,"g":"o6"},
    {"d":"2021-04-23","v":0.95,"g":"o6"},
    {"d":"2021-04-24","v":1.21,"g":"o6"},
    {"d":"2021-04-25","v":1.20,"g":"o6"},
    {"d":"2021-04-26","v":1.49,"g":"o6"},
    {"d":"2021-04-27","v":1.87,"g":"o6"},
    {"d":"2021-04-28","v":2.24,"g":"o6"},
    {"d":"2021-04-29","v":2.33,"g":"o6"},
    {"d":"2021-04-30","v":2.42,"g":"o6"},
    {"d":"2021-05-01","v":2.48,"g":"o6"},
    {"d":"2021-05-02","v":2.55,"g":"o6"},
    {"d":"2021-05-03","v":2.18,"g":"o6"},
    {"d":"2021-05-04","v":1.73,"g":"o6"},
    {"d":"2021-05-05","v":1.43,"g":"o6"},
    {"d":"2021-05-06","v":1.45,"g":"o6"},
    {"d":"2021-05-07","v":1.23,"g":"o6"},
    {"d":"2021-05-08","v":1.12,"g":"o6"},
    {"d":"2021-05-09","v":2.18,"g":"o6"},
    {"d":"2021-05-10","v":6.1,"g":"o6"},
    {"d":"2021-05-11","v":14.0,"g":"o6"},
    {"d":"2021-05-12","v":32,"g":"o6"},
    {"d":"2021-05-13","v":69,"g":"o6"},
    {"d":"2021-05-14","v":101,"g":"o6"},
    {"d":"2021-05-15","v":134,"g":"o6"},
    {"d":"2021-05-16","v":169,"g":"o6"},
    {"d":"2021-05-17","v":248,"g":"o6"},
    {"d":"2021-05-18","v":313,"g":"o6"},
    {"d":"2021-05-19","v":374,"g":"o6"},
    {"d":"2021-05-20","v":414,"g":"o6"},
    {"d":"2021-05-21","v":458,"g":"o6"},
    {"d":"2021-05-22","v":483,"g":"o6"},
    {"d":"2021-05-23","v":501,"g":"o6"},
    {"d":"2021-05-24","v":535,"g":"o6"},
    {"d":"2021-05-25","v":563,"g":"o6"},
    {"d":"2021-05-26","v":556,"g":"o6"},
    {"d":"2021-05-27","v":535,"g":"o6"},
    {"d":"2021-05-28","v":508,"g":"o6"},
    {"d":"2021-05-29","v":483,"g":"o6"},
    {"d":"2021-05-30","v":458,"g":"o6"},
    {"d":"2021-05-31","v":447,"g":"o6"},
    {"d":"2021-06-01","v":441,"g":"o6"},
    {"d":"2021-06-02","v":436,"g":"o6"},
    {"d":"2021-06-03","v":430,"g":"o6"},
    {"d":"2021-06-04","v":420,"g":"o6"},
    {"d":"2021-06-05","v":414,"g":"o6"},
    {"d":"2021-06-06","v":394,"g":"o6"},
    {"d":"2021-06-07","v":379,"g":"o6"},
    {"d":"2021-06-08","v":355,"g":"o6"},
    {"d":"2021-06-09","v":313,"g":"o6"},
    {"d":"2021-06-10","v":275,"g":"o6"},
    {"d":"2021-06-11","v":242,"g":"o6"},
    {"d":"2021-06-12","v":221,"g":"o6"},
    {"d":"2021-06-13","v":205,"g":"o6"},
    {"d":"2021-06-14","v":195,"g":"o6"},
    {"d":"2021-06-15","v":187,"g":"o6"},
    {"d":"2021-06-16","v":176,"g":"o6"},
    {"d":"2021-06-17","v":165,"g":"o6"},
    {"d":"2021-06-18","v":149,"g":"o6"},
    {"d":"2021-06-19","v":138,"g":"o6"},
    {"d":"2021-06-20","v":126,"g":"o6"},
    {"d":"2021-06-21","v":115,"g":"o6"},
    {"d":"2021-06-22","v":107,"g":"o6"},
    {"d":"2021-06-23","v":96,"g":"o6"},
    {"d":"2021-06-24","v":89,"g":"o6"},
    {"d":"2021-06-25","v":87,"g":"o6"},
    {"d":"2021-06-26","v":86,"g":"o6"},
    {"d":"2021-06-27","v":83,"g":"o6"},
    {"d":"2021-06-28","v":75,"g":"o6"},
    {"d":"2021-06-29","v":69,"g":"o6"},
    {"d":"2021-06-30","v":66,"g":"o6"},
    {"d":"2021-07-01","v":58,"g":"o6"},
    {"d":"2021-07-02","v":53,"g":"o6"},
    {"d":"2021-07-03","v":49,"g":"o6"},
    {"d":"2021-07-04","v":44,"g":"o6"},
    {"d":"2021-07-05","v":39,"g":"o6"},
    {"d":"2021-07-06","v":34,"g":"o6"},
    {"d":"2021-07-07","v":30,"g":"o6"},
    {"d":"2021-07-08","v":28.6,"g":"o6"},
    {"d":"2021-07-09","v":27.9,"g":"o6"},
    {"d":"2021-07-10","v":27.5,"g":"o6"},
    {"d":"2021-07-11","v":26.5,"g":"o6"},
    {"d":"2021-07-12","v":25.8,"g":"o6"},
    {"d":"2021-07-13","v":24.2,"g":"o6"},
    {"d":"2021-07-14","v":23.0,"g":"o6"},
    {"d":"2021-07-15","v":21.8,"g":"o6"},
    {"d":"2021-07-16","v":19.2,"g":"o6"},
    {"d":"2021-07-17","v":17.3,"g":"o6"},
    {"d":"2021-07-18","v":16.5,"g":"o6"},
    {"d":"2021-07-19","v":16.7,"g":"o6"},
    {"d":"2021-07-20","v":17.8,"g":"o6"},
    {"d":"2021-07-21","v":18.5,"g":"o6"},
    {"d":"2021-07-22","v":18.7,"g":"o6"},
    {"d":"2021-07-23","v":19.2,"g":"o6"},
    {"d":"2021-07-24","v":19.0,"g":"o6"},
    {"d":"2021-07-25","v":18.2,"g":"o6"},
    {"d":"2021-07-26","v":17.1,"g":"o6"},
    {"d":"2021-07-27","v":16.3,"g":"o6"},
    {"d":"2021-07-28","v":15.7,"g":"o6"},
    {"d":"2021-07-29","v":14.9,"g":"o6"},
    {"d":"2021-07-30","v":14.9,"g":"o6"},
    {"d":"2021-07-31","v":14.7,"g":"o6"},
    {"d":"2021-08-01","v":14.5,"g":"o6"},
    {"d":"2021-08-02","v":14.1,"g":"o6"},
    {"d":"2021-08-03","v":13.4,"g":"o6"},
    {"d":"2021-08-04","v":12.3,"g":"o6"},
    {"d":"2021-08-05","v":11.2,"g":"o6"},
    {"d":"2021-08-06","v":10.3,"g":"o6"},
    {"d":"2021-08-07","v":9.3,"g":"o6"},
    {"d":"2021-08-08","v":8.05,"g":"o6"},
    {"d":"2021-08-09","v":6.7,"g":"o6"},
    {"d":"2021-08-10","v":5.7,"g":"o6"},
    {"d":"2021-08-11","v":5.0,"g":"o6"},
    {"d":"2021-08-12","v":4.8,"g":"o6"},
    {"d":"2021-08-13","v":4.7,"g":"o6"},
    {"d":"2021-08-14","v":4.7,"g":"o6"},
    {"d":"2021-08-15","v":4.35,"g":"o6"},
    {"d":"2021-08-16","v":4.14,"g":"o6"},
    {"d":"2021-08-17","v":4.25,"g":"o6"},
    {"d":"2021-08-18","v":4.35,"g":"o6"},
    {"d":"2021-08-19","v":4.35,"g":"o6"},
    {"d":"2021-08-20","v":4.14,"g":"o6"},
    {"d":"2021-08-21","v":4.58,"g":"o6"},
    {"d":"2021-08-22","v":4.41,"g":"o6"},
    {"d":"2021-08-23","v":3.64,"g":"o6"},
    {"d":"2021-08-24","v":3.29,"g":"o6"},
    {"d":"2021-08-25","v":3.0,"g":"o6"},
    {"d":"2021-08-26","v":2.05,"g":"o6"},
    {"d":"2021-08-27","v":2.64,"g":"o6"},
    {"d":"2021-08-28","v":2.86,"g":"o6"},
    {"d":"2021-08-29","v":2.9,"g":"o6"},
    {"d":"2021-08-30","v":3.0,"g":"o6"},
    {"d":"2021-08-31","v":3.08,"g":"o6"},
    {"d":"2021-09-01","v":3.2,"g":"o6"},
    {"d":"2021-09-02","v":2.9,"g":"o6"},
    {"d":"2021-09-03","v":1.73,"g":"o6"},
    {"d":"2021-09-04","v":2.82,"g":"o6"},
    {"d":"2021-09-05","v":3.29,"g":"o6"},
    {"d":"2021-09-06","v":3.73,"g":"o6"},
    {"d":"2021-09-07","v":4.25,"g":"o6"},
    {"d":"2021-09-08","v":4.64,"g":"o6"},
    {"d":"2021-09-09","v":4.7,"g":"o6"},
    {"d":"2021-09-10","v":4.41,"g":"o6"},
    {"d":"2021-09-11","v":3.88,"g":"o6"},
    {"d":"2021-09-12","v":2.64,"g":"o6"},
    {"d":"2021-09-13","v":2.18,"g":"o6"},
    {"d":"2021-09-14","v":1.92,"g":"o6"},
    {"d":"2021-09-15","v":1.73,"g":"o6"},
    {"d":"2021-09-16","v":1.58,"g":"o6"},
    {"d":"2021-09-17","v":1.40,"g":"o6"},
    {"d":"2021-09-18","v":1.08,"g":"o6"},
    {"d":"2021-09-19","v":0.81,"g":"o6"},
    {"d":"2021-09-20","v":0.69,"g":"o6"},
    {"d":"2021-09-21","v":0.62,"g":"o6"},
    {"d":"2021-09-22","v":0.56,"g":"o6"},
    {"d":"2021-09-23","v":0.52,"g":"o6"},
    {"d":"2021-09-24","v":0.28,"g":"o6"},
    {"d":"2021-09-25","v":0.143,"g":"o6"},
    {"d":"2021-09-26","v":0.36,"g":"o6"},
    {"d":"2021-09-27","v":0.44,"g":"o6"},
    {"d":"2021-09-28","v":0.36,"g":"o6"},
    {"d":"2021-09-29","v":0.30,"g":"o6"},
    {"d":"2021-09-30","v":0.28,"g":"o6"},
    {"d":"2021-10-01","v":0.29,"g":"o6"},
    {"d":"2021-10-02","v":0.26,"g":"o6"},
    {"d":"2021-10-03","v":0.143,"g":"o6"},
    {"d":"2021-10-08","v":0.143,"g":"o7"},
    {"d":"2021-10-09","v":0.29,"g":"o7"},
    {"d":"2021-10-10","v":0.29,"g":"o7"},
    {"d":"2021-10-11","v":0.29,"g":"o7"},
    {"d":"2021-10-12","v":0.29,"g":"o7"},
    {"d":"2021-10-13","v":0.29,"g":"o7"},
    {"d":"2021-10-14","v":0.29,"g":"o7"},
    {"d":"2021-10-15","v":0.29,"g":"o7"},
    {"d":"2021-10-16","v":0.29,"g":"o7"},
    {"d":"2021-10-17","v":0.30,"g":"o7"},
    {"d":"2021-10-18","v":0.30,"g":"o7"},
    {"d":"2021-10-19","v":0.53,"g":"o7"},
    {"d":"2021-10-20","v":0.46,"g":"o7"},
    {"d":"2021-10-21","v":0.59,"g":"o7"},
    {"d":"2021-10-22","v":0.57,"g":"o7"},
    {"d":"2021-10-23","v":0.58,"g":"o7"},
    {"d":"2021-10-24","v":0.58,"g":"o7"},
    {"d":"2021-10-25","v":0.58,"g":"o7"},
    {"d":"2021-10-26","v":0.28,"g":"o7"},
    {"d":"2021-10-27","v":0.28,"g":"o7"},
    {"d":"2021-10-28","v":0.28,"g":"o7"},
    {"d":"2021-11-03","v":0.143,"g":"o8"},
    {"d":"2021-11-04","v":0.143,"g":"o8"},
    {"d":"2021-11-05","v":0.143,"g":"o8"},
    {"d":"2021-11-06","v":0.143,"g":"o8"},
    {"d":"2021-11-07","v":0.143,"g":"o8"},
    {"d":"2021-12-08","v":0.30,"g":"o9"},
    {"d":"2021-12-09","v":0.41,"g":"o9"},
    {"d":"2021-12-10","v":0.50,"g":"o9"},
    {"d":"2021-12-11","v":0.61,"g":"o9"},
    {"d":"2021-12-12","v":0.95,"g":"o9"},
    {"d":"2021-12-13","v":1.2,"g":"o9"},
    {"d":"2021-12-14","v":1.25,"g":"o9"},
    {"d":"2021-12-15","v":1.0,"g":"o9"},
    {"d":"2021-12-16","v":0.83,"g":"o9"},
    {"d":"2021-12-17","v":0.80,"g":"o9"},
    {"d":"2021-12-18","v":0.69,"g":"o9"},
    {"d":"2021-12-19","v":0.36,"g":"o9"},
    {"d":"2021-12-20","v":0.143,"g":"o9"},
    {"d":"2021-12-25","v":0.143,"g":"o10"},
    {"d":"2021-12-26","v":0.143,"g":"o10"},
    {"d":"2021-12-27","v":0.143,"g":"o10"},
    {"d":"2021-12-28","v":0.143,"g":"o10"},
    {"d":"2021-12-29","v":0.143,"g":"o10"}
  ],
  "fit": [
    {"d":"2021-05-26","v":0.03},
    {"d":"2021-09-07","v":2.2e-5}
  ],
  "band": [
    {"d":"2021-06-09","lo":1.1e-2,"hi":1.2e-2},
    {"d":"2021-06-11","lo":8.9e-3,"hi":1.08e-2},
    {"d":"2021-06-13","lo":7.6e-3,"hi":9.9e-3},
    {"d":"2021-06-15","lo":6.4e-3,"hi":8.9e-3},
    {"d":"2021-06-17","lo":5.5e-3,"hi":8.0e-3},
    {"d":"2021-06-19","lo":4.7e-3,"hi":7.3e-3},
    {"d":"2021-06-21","lo":4.0e-3,"hi":6.8e-3},
    {"d":"2021-06-23","lo":3.4e-3,"hi":6.3e-3},
    {"d":"2021-06-25","lo":2.8e-3,"hi":5.7e-3},
    {"d":"2021-06-27","lo":2.0e-3,"hi":5.1e-3},
    {"d":"2021-06-28","lo":1.6e-3,"hi":4.85e-3},
    {"d":"2021-06-29","lo":1.15e-3,"hi":4.65e-3},
    {"d":"2021-06-30","lo":7.5e-4,"hi":4.45e-3},
    {"d":"2021-07-01","lo":4.75e-4,"hi":4.3e-3},
    {"d":"2021-07-02","lo":2.3e-4,"hi":4.1e-3},
    {"d":"2021-07-03","lo":7.5e-5,"hi":3.95e-3},
    {"d":"2021-07-04","lo":1e-6,"hi":3.8e-3},
    {"d":"2021-07-08","lo":1e-6,"hi":3.3e-3},
    {"d":"2021-07-13","lo":1e-6,"hi":2.9e-3},
    {"d":"2021-07-18","lo":1e-6,"hi":2.65e-3},
    {"d":"2021-07-23","lo":1e-6,"hi":2.52e-3},
    {"d":"2021-07-28","lo":1e-6,"hi":2.42e-3},
    {"d":"2021-08-02","lo":1e-6,"hi":2.37e-3},
    {"d":"2021-08-12","lo":1e-6,"hi":2.3e-3},
    {"d":"2021-08-22","lo":1e-6,"hi":2.27e-3},
    {"d":"2021-09-01","lo":1e-6,"hi":2.24e-3},
    {"d":"2021-09-08","lo":1e-6,"hi":2.22e-3}
  ],
  "lowline": [
    {"d":"2021-06-09","lo":1.1e-2},
    {"d":"2021-06-11","lo":8.9e-3},
    {"d":"2021-06-13","lo":7.6e-3},
    {"d":"2021-06-15","lo":6.4e-3},
    {"d":"2021-06-17","lo":5.5e-3},
    {"d":"2021-06-19","lo":4.7e-3},
    {"d":"2021-06-21","lo":4.0e-3},
    {"d":"2021-06-23","lo":3.4e-3},
    {"d":"2021-06-25","lo":2.8e-3},
    {"d":"2021-06-27","lo":2.0e-3},
    {"d":"2021-06-28","lo":1.6e-3},
    {"d":"2021-06-29","lo":1.15e-3},
    {"d":"2021-06-30","lo":7.5e-4},
    {"d":"2021-07-01","lo":4.75e-4},
    {"d":"2021-07-02","lo":2.3e-4},
    {"d":"2021-07-03","lo":7.5e-5},
    {"d":"2021-07-04","lo":1e-6}
  ]
},
"encoding": {
  "x": {
    "field": "d", "type": "temporal",
    "scale": {"type": "utc", "domain": [{"year": 2020, "month": 1, "date": 14, "hours": 3, "utc": true}, {"year": 2021, "month": 12, "date": 30, "hours": 7, "utc": true}]},
    "axis": {
      "orient": "bottom",
      "values": [1578994560000,1579478400000,1579962240000,1580446080000,1580929920000,1581413760000,1581897600000,1582381440000,1582865280000,1583349120000,1583832960000,1584316800000,1584800640000,1585284480000,1585768320000,1586252160000,1586736000000,1587219840000,1587703680000,1588187520000,1588671360000,1589155200000,1589639040000,1590122880000,1590606720000,1591090560000,1591574400000,1592058240000,1592542080000,1593025920000,1593509760000,1593993600000,1594477440000,1594961280000,1595445120000,1595928960000,1596412800000,1596896640000,1597380480000,1597864320000,1598348160000,1598832000000,1599315840000,1599799680000,1600283520000,1600767360000,1601251200000,1601735040000,1602218880000,1602702720000,1603186560000,1603670400000,1604154240000,1604638080000,1605121920000,1605605760000,1606089600000,1606573440000,1607057280000,1607541120000,1608024960000,1608508800000,1608992640000,1609476480000,1609960320000,1610444160000,1610928000000,1611411840000,1611895680000,1612379520000,1612863360000,1613347200000,1613831040000,1614314880000,1614798720000,1615282560000,1615766400000,1616250240000,1616734080000,1617217920000,1617701760000,1618185600000,1618669440000,1619153280000,1619637120000,1620120960000,1620604800000,1621088640000,1621572480000,1622056320000,1622540160000,1623024000000,1623507840000,1623991680000,1624475520000,1624959360000,1625443200000,1625927040000,1626410880000,1626894720000,1627378560000,1627862400000,1628346240000,1628830080000,1629313920000,1629797760000,1630281600000,1630765440000,1631249280000,1631733120000,1632216960000,1632700800000,1633184640000,1633668480000,1634152320000,1634636160000,1635120000000,1635603840000,1636087680000,1636571520000,1637055360000,1637539200000,1638023040000,1638506880000,1638990720000,1639474560000,1639958400000,1640442240000],
      "labelExpr": "abs((datum.value - 1579478400000) % 2419200000) < 1000 ? utcFormat(datum.value, '%Y-%m-%d') : ''",
      "labelAngle": -45, "labelAlign": "right", "labelBaseline": "middle",
      "labelFontSize": 19.5, "labelPadding": 12, "labelOverlap": false, "labelFlush": false, "labelBound": false,
      "title": "Date", "titleFontSize": 22, "titlePadding": 18,
      "grid": true, "gridColor": "#dedede",
      "gridOpacity": {"condition": {"test": "abs((datum.value - 1579478400000) % 2419200000) < 1000", "value": 1}, "value": 0},
      "tickSize": {"condition": {"test": "abs((datum.value - 1579478400000) % 2419200000) < 1000", "value": -8}, "value": -4}
    }
  }
},
"layer": [
  {
    "data": {"name": "band"},
    "mark": {"type": "area", "color": "#808080", "opacity": 0.2},
    "encoding": {
      "y": {"field": "lo", "type": "quantitative", "scale": {"type": "log", "domain": [1e-6, 0.1], "nice": false}, "axis": null},
      "y2": {"field": "hi"}
    }
  },
  {
    "data": {"name": "band"},
    "mark": {"type": "line", "color": "#262626", "strokeWidth": 1, "strokeDash": [5, 3]},
    "encoding": {
      "y": {"field": "hi", "type": "quantitative", "scale": {"type": "log", "domain": [1e-6, 0.1], "nice": false}, "axis": null}
    }
  },
  {
    "data": {"name": "lowline"},
    "mark": {"type": "line", "color": "#262626", "strokeWidth": 1, "strokeDash": [5, 3]},
    "encoding": {
      "y": {"field": "lo", "type": "quantitative", "scale": {"type": "log", "domain": [1e-6, 0.1], "nice": false}, "axis": null}
    }
  },
  {
    "data": {"name": "ratio"},
    "mark": {"type": "line", "strokeWidth": 1.3},
    "encoding": {
      "y": {
        "field": "v", "type": "quantitative",
        "scale": {"type": "log", "domain": [1e-6, 0.1], "nice": false},
        "axis": {
          "orient": "left",
          "values": [1e-6, 1e-5, 1e-4, 0.001, 0.01, 0.1],
          "labelExpr": "'10' + replace(replace(replace(replace(replace(replace(replace(replace('' + round(log(datum.value)/LN10), '-', '\u207b'), '0', '\u2070'), '1', '\u00b9'), '2', '\u00b2'), '3', '\u00b3'), '4', '\u2074'), '5', '\u2075'), '6', '\u2076')",
          "labelFontSize": 19.5, "labelPadding": 10, "labelOverlap": false, "labelFlush": false,
          "title": "Ratio of local & unknown confirmed to suspected cases",
          "titleFontSize": 22, "titlePadding": 6,
          "grid": true, "gridColor": "#dedede",
          "tickSize": -7
        }
      },
      "color": {"field": "s", "type": "nominal", "scale": {"domain": ["other", "wave1", "wave2", "wave3"], "range": ["#808080", "#0000ff", "#00e000", "#ff0000"]}, "legend": null},
      "detail": {"field": "g"}
    }
  },
  {
    "data": {"name": "fit"},
    "mark": {"type": "line", "color": "#000000", "strokeWidth": 1.3},
    "encoding": {
      "y": {
        "field": "v", "type": "quantitative",
        "scale": {"type": "log", "domain": [1e-6, 0.1], "nice": false},
        "axis": {
          "orient": "left",
          "values": [2e-6,3e-6,4e-6,5e-6,6e-6,7e-6,8e-6,9e-6,2e-5,3e-5,4e-5,5e-5,6e-5,7e-5,8e-5,9e-5,2e-4,3e-4,4e-4,5e-4,6e-4,7e-4,8e-4,9e-4,0.002,0.003,0.004,0.005,0.006,0.007,0.008,0.009,0.02,0.03,0.04,0.05,0.06,0.07,0.08,0.09],
          "labels": false, "domain": false, "title": null,
          "grid": true, "gridColor": "#c8c8c8", "gridDash": [1, 3],
          "tickSize": -4
        }
      }
    }
  },
  {
    "data": {"values": [{"d": "2020-12-29", "v": 0.0505, "t": "f(x) = 0.03\u00b72"}]},
    "mark": {"type": "text", "align": "left", "baseline": "alphabetic", "fontSize": 20, "color": "#000000"},
    "encoding": {
      "y": {"field": "v", "type": "quantitative", "scale": {"type": "log", "domain": [1e-6, 0.1], "nice": false}, "axis": null},
      "text": {"field": "t"}
    }
  },
  {
    "data": {"values": [{"d": "2021-04-04", "v": 0.0655, "t": "-0.10\u00b7x"}]},
    "mark": {"type": "text", "align": "left", "baseline": "alphabetic", "fontSize": 15, "color": "#000000"},
    "encoding": {
      "y": {"field": "v", "type": "quantitative", "scale": {"type": "log", "domain": [1e-6, 0.1], "nice": false}, "axis": null},
      "text": {"field": "t"}
    }
  },
  {
    "data": {"values": [{"d": "2020-12-29", "v": 0.0297, "t": "Halving every 9.1-10.8 days"}]},
    "mark": {"type": "text", "align": "left", "baseline": "alphabetic", "fontSize": 20, "color": "#000000"},
    "encoding": {
      "y": {"field": "v", "type": "quantitative", "scale": {"type": "log", "domain": [1e-6, 0.1], "nice": false}, "axis": null},
      "text": {"field": "t"}
    }
  },
  {
    "data": {"name": "cases"},
    "mark": {"type": "line", "color": "#ff8c1a", "strokeWidth": 1, "strokeDash": [6, 3, 1.5, 3]},
    "encoding": {
      "y": {
        "field": "v", "type": "quantitative",
        "scale": {"type": "log", "domain": [0.1, 10000000], "nice": false},
        "axis": {
          "orient": "right",
          "values": [0.1,0.2,0.3,0.4,0.5,0.6,0.7,0.8,0.9,1,2,3,4,5,6,7,8,9,10,20,30,40,50,60,70,80,90,100,200,300,400,500,600,700,800,900,1000,2000,3000,4000,5000,6000,7000,8000,9000,10000,20000,30000,40000,50000,60000,70000,80000,90000,100000,200000,300000,400000,500000,600000,700000,800000,900000,1000000,2000000,3000000,4000000,5000000,6000000,7000000,8000000,9000000,10000000],
          "labelExpr": "abs(log(datum.value)/LN10 - round(log(datum.value)/LN10)) < 0.001 && round(log(datum.value)/LN10) % 2 == 0 ? '10' + replace(replace(replace(replace(replace(replace(replace(replace('' + round(log(datum.value)/LN10), '-', '\u207b'), '0', '\u2070'), '1', '\u00b9'), '2', '\u00b2'), '3', '\u00b3'), '4', '\u2074'), '5', '\u2075'), '6', '\u2076') : ''",
          "labelFontSize": 19.5, "labelPadding": 13, "labelOverlap": false, "labelFlush": false,
          "labelColor": "#ff8c1a", "tickColor": "#ff8c1a", "domainColor": "#ff8c1a", "titleColor": "#ff8c1a",
          "title": "No. local & unknown confirmed cases", "titleFontSize": 22, "titleAngle": 270, "titleBaseline": "top", "titlePadding": 10,
          "grid": false,
          "tickSize": {"condition": {"test": "abs(log(datum.value)/LN10 - round(log(datum.value)/LN10)) < 0.001", "value": -7}, "value": -4}
        }
      },
      "detail": {"field": "g"}
    }
  }
],
"resolve": {"scale": {"y": "independent"}}
}
